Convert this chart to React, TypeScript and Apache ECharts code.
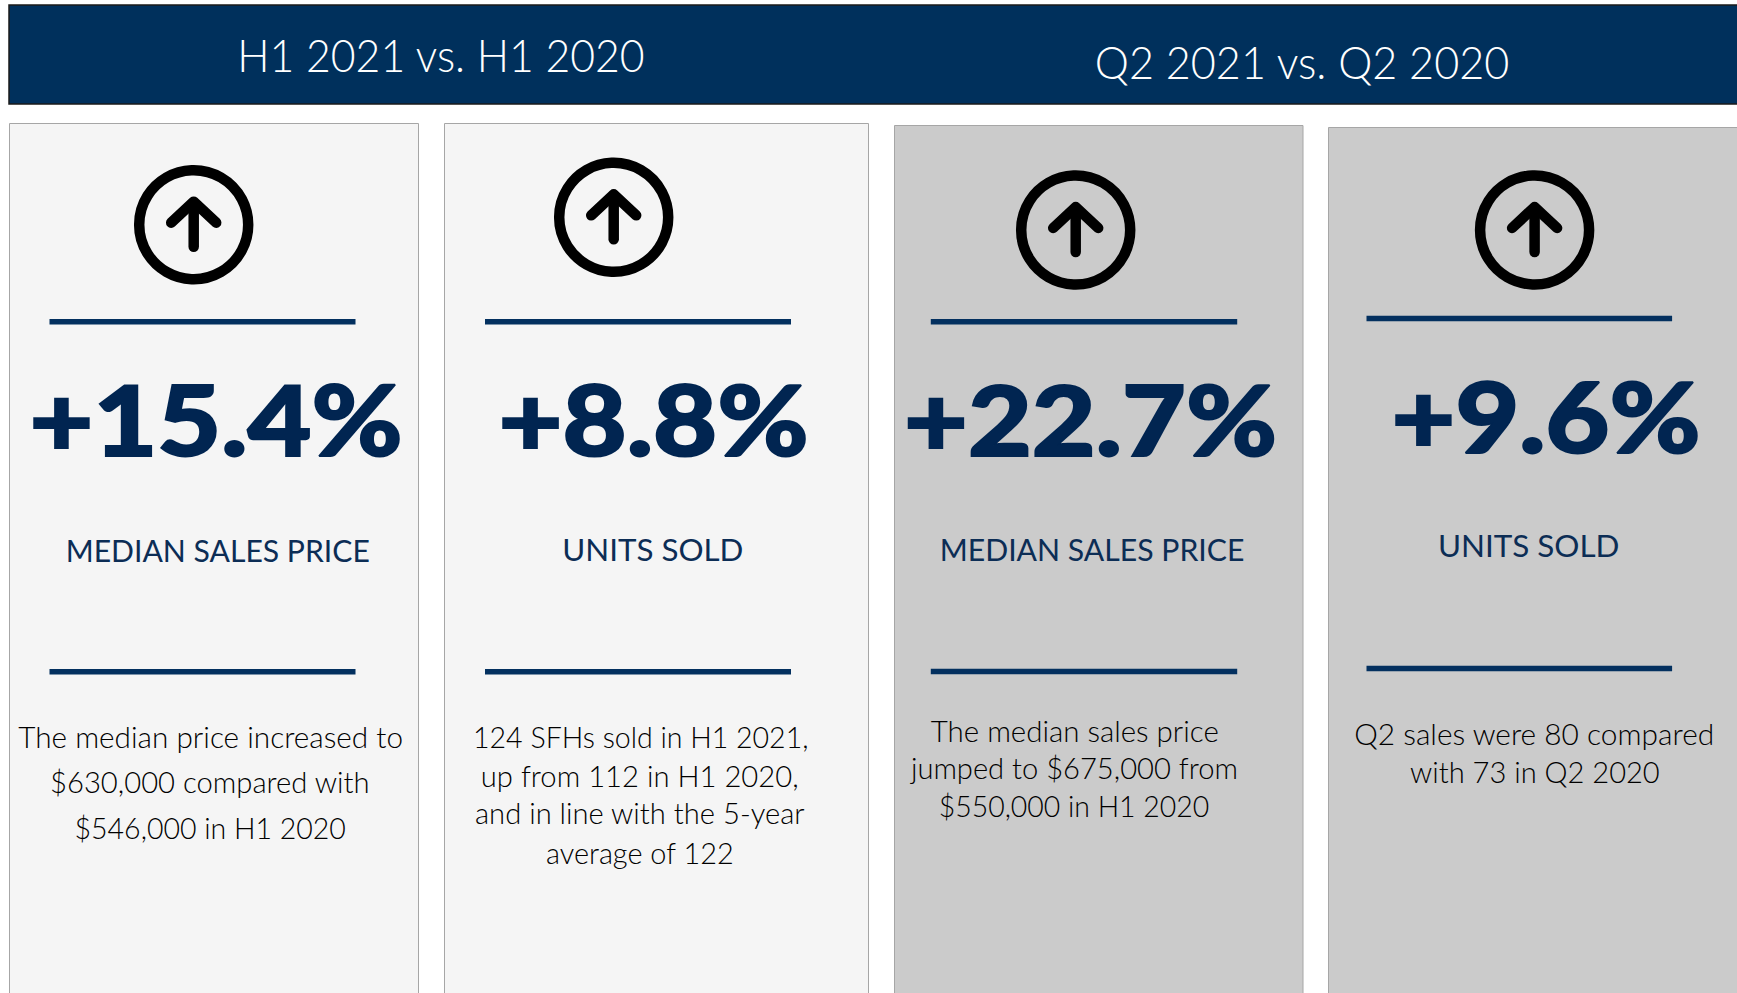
import React, { useEffect, useRef } from "react";
import * as echarts from "echarts";

const headers = ["H1 2021 vs. H1 2020", "Q2 2021 vs. Q2 2020"];
const changes = ["+15.4%", "+8.8%", "+22.7%", "+9.6%"];
const metrics = ["MEDIAN SALES PRICE", "UNITS SOLD", "MEDIAN SALES PRICE", "UNITS SOLD"];
const card1Lines = ["The median price increased to", "$630,000 compared with", "$546,000 in H1 2020"];
const card2Lines = ["124 SFHs sold in H1 2021,", "up from 112 in H1 2020,", "and in line with the 5-year", "average of 122"];
const card3Lines = ["The median sales price", "jumped to $675,000 from", "$550,000 in H1 2020"];
const card4Lines = ["Q2 sales were 80 compared", "with 73 in Q2 2020"];
const bodies = [card1Lines, card2Lines, card3Lines, card4Lines];

const FONT = "Lato";
const NAVY = "#00305c";
const BIG = "#012551";
const LABEL = "#0c2d55";
const BODY = "#000000";

const cardBoxes = [
  { x: 9.5, y: 123.5, w: 409, fill: "#f5f5f5" },
  { x: 444.5, y: 123.5, w: 424, fill: "#f5f5f5" },
  { x: 894.5, y: 125.5, w: 408.5, fill: "#cbcbcb" },
  { x: 1328.5, y: 127.5, w: 440, fill: "#cbcbcb" },
];
const icons = [
  { cx: 193.7, cy: 224.7 },
  { cx: 613.7, cy: 217.3 },
  { cx: 1075.7, cy: 230 },
  { cx: 1534.6, cy: 230 },
];
const rules = [
  { x: 49.5, w: 306, y1: 319, y2: 669 },
  { x: 485, w: 306, y1: 319, y2: 669 },
  { x: 930.8, w: 306.4, y1: 319, y2: 668.7 },
  { x: 1366.5, w: 305.6, y1: 315.7, y2: 665.7 },
];
const headerPos = [
  { x0: 241, x1: 644, b: 71.7 },
  { x0: 1096.7, x1: 1508.7, b: 79 },
];
const bigPos = [
  { x0: 33, x1: 400, b: 456 },
  { x0: 502, x1: 806, b: 456 },
  { x0: 907.6, x1: 1274.5, b: 455.7 },
  { x0: 1395.1, x1: 1698, b: 453 },
];
const metricPos = [
  { x0: 67.7, x1: 368.5, b: 561.7 },
  { x0: 564.4, x1: 742.5, b: 561.7 },
  { x0: 941.7, x1: 1243.3, b: 560.7 },
  { x0: 1440, x1: 1618.7, b: 558 },
];
const bodyPos = [
  [
    { x0: 18.3, x1: 401.8, b: 748.2 },
    { x0: 51, x1: 368.5, b: 793.5 },
    { x0: 75.5, x1: 345, b: 839.2 },
  ],
  [
    { x0: 475, x1: 807.4, b: 748.8 },
    { x0: 482.8, x1: 797.4, b: 786.8 },
    { x0: 476, x1: 805, b: 824.5 },
    { x0: 547, x1: 732.5, b: 863.5 },
  ],
  [
    { x0: 930.8, x1: 1217.7, b: 742.2 },
    { x0: 909.9, x1: 1236.7, b: 779.5 },
    { x0: 939.7, x1: 1208.4, b: 817.5 },
  ],
  [
    { x0: 1355.2, x1: 1713, b: 745.2 },
    { x0: 1410, x1: 1659, b: 783.2 },
  ],
];

const ctx = document.createElement("canvas").getContext("2d")!;

function fittedText(
  text: string,
  pos: { x0: number; x1: number; b: number },
  size: number,
  weight: number,
  fill: string,
  thicken = 0
) {
  ctx.font = `${weight} ${size}px ${FONT}`;
  const m = ctx.measureText(text);
  const central = (m.fontBoundingBoxAscent - m.fontBoundingBoxDescent) / 2;
  const ink = m.actualBoundingBoxLeft + m.actualBoundingBoxRight;
  const scaleX = (pos.x1 - pos.x0 - thicken) / ink;
  return {
    type: "text",
    x: pos.x0 + thicken / 2 + m.actualBoundingBoxLeft * scaleX,
    y: pos.b - central,
    scaleX,
    style: {
      text,
      x: 0,
      y: 0,
      fill,
      fontFamily: FONT,
      fontSize: size,
      fontWeight: weight,
      textAlign: "left",
      textVerticalAlign: "middle",
      ...(thicken ? { stroke: fill, lineWidth: thicken } : {}),
    },
  };
}

function buildGraphics() {
  const els: any[] = [];
  els.push({
    type: "rect",
    shape: { x: 9, y: 5, width: 1800, height: 99 },
    style: { fill: NAVY, stroke: "#1a1a1a", lineWidth: 1.5 },
  });
  headers.forEach((h, i) => els.push(fittedText(h, headerPos[i], 46, 300, "#ffffff")));

  cardBoxes.forEach((c, i) => {
    els.push({
      type: "rect",
      shape: { x: c.x, y: c.y, width: c.w, height: 1000 },
      style: { fill: c.fill, stroke: "#a6a6a6", lineWidth: 1 },
    });
    const { cx, cy } = icons[i];
    els.push({
      type: "circle",
      shape: { cx, cy, r: 54.5 },
      style: { fill: "none", stroke: "#000000", lineWidth: 10.5 },
    });
    els.push({
      type: "line",
      shape: { x1: cx, y1: cy - 22, x2: cx, y2: cy + 22 },
      style: { stroke: "#000000", lineWidth: 10.5, lineCap: "round" },
    });
    els.push({
      type: "polyline",
      shape: {
        points: [
          [cx - 22.5, cy - 2],
          [cx, cy - 23],
          [cx + 22.5, cy - 2],
        ],
      },
      style: { fill: "none", stroke: "#000000", lineWidth: 10.5, lineCap: "round", lineJoin: "round" },
    });
    const r = rules[i];
    [r.y1, r.y2].forEach((y) =>
      els.push({
        type: "rect",
        shape: { x: r.x, y, width: r.w, height: 5.5 },
        style: { fill: "#03305f" },
      })
    );
    els.push(fittedText(changes[i], bigPos[i], 97, 900, BIG, 2));
    els.push(fittedText(metrics[i], metricPos[i], 30, 400, LABEL));
    bodies[i].forEach((line, j) => els.push(fittedText(line, bodyPos[i][j], 29, 300, BODY)));
  });
  return els;
}

export default function App() {
  const ref = useRef<HTMLDivElement>(null);
  useEffect(() => {
    document.body.style.margin = "0";
    document.body.style.background = "#ffffff";
    const chart = echarts.init(ref.current!, undefined, { renderer: "svg" });
    chart.setOption({
      animation: false,
      backgroundColor: "#ffffff",
      graphic: { elements: buildGraphics() },
    });
    return () => chart.dispose();
  }, []);
  return <div ref={ref} style={{ width: 1737, height: 993, overflow: "hidden" }} />;
}
